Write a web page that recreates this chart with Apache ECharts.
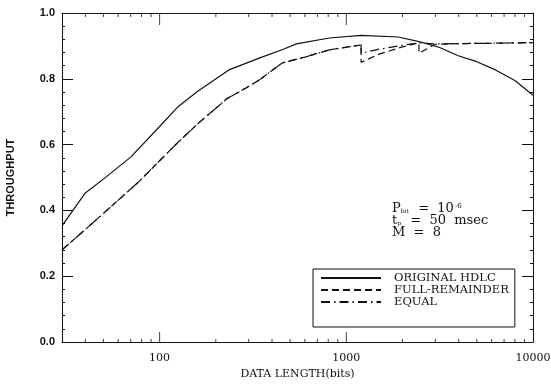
<!DOCTYPE html>
<html>
<head>
<meta charset="utf-8">
<script src="https://cdn.jsdelivr.net/npm/echarts@6/dist/echarts.min.js"></script>
<style>
  html, body { margin: 0; padding: 0; background: #fff; }
  #chart { width: 551px; height: 385px; }
</style>
</head>
<body>
<div id="chart"></div>
<script>
// data
const xLabels = [100, 1000, 10000]
const xMajorTicks = [100, 1000]
const xMinorTicks = [40, 50, 60, 70, 80, 90, 200, 300, 400, 500, 600, 700, 800, 900,
  2000, 3000, 4000, 5000, 6000, 7000, 8000, 9000]

const hdlcLen = [30, 40, 50, 70, 100, 126, 160, 235, 350, 460, 540, 810, 1200, 1900, 2450, 2725, 3160, 3980, 5000, 6300, 8000, 10000]
const hdlcThr = [0.353, 0.453, 0.495, 0.562, 0.655, 0.716, 0.762, 0.827, 0.865, 0.89, 0.906, 0.924, 0.932, 0.927, 0.913, 0.906, 0.895, 0.87, 0.852, 0.827, 0.795, 0.75]

const fullLen = [30, 40, 50, 77, 100, 126, 162, 230, 290, 341, 453, 600, 811, 1200, 1200, 1500, 2000, 2450, 2450, 3000, 4000, 6000, 10000]
const fullThr = [0.28, 0.342, 0.391, 0.486, 0.551, 0.608, 0.666, 0.74, 0.772, 0.796, 0.848, 0.866, 0.888, 0.903, 0.85, 0.875, 0.897, 0.909, 0.878, 0.905, 0.907, 0.908, 0.91]

const equalLen = [30, 40, 50, 77, 100, 126, 162, 230, 290, 341, 453, 600, 811, 1200, 1200, 1500, 2000, 2450, 3000, 4000, 6000, 10000]
const equalThr = [0.28, 0.342, 0.391, 0.486, 0.551, 0.608, 0.666, 0.74, 0.772, 0.796, 0.848, 0.866, 0.888, 0.903, 0.878, 0.89, 0.902, 0.909, 0.906, 0.907, 0.908, 0.91]

const ink = '#111'
const zip = (a, b) => a.map((v, i) => [v, b[i]])
const isLabel = v => xLabels.some(l => Math.abs(l - v) < 1e-6 * l)

const chart = echarts.init(document.getElementById('chart'))

// tick marks along the log axis, placed by the axis scale
function tickMarks(values, yVal, len, up) {
  return {
    type: 'scatter',
    silent: true,
    clip: false,
    symbol: 'rect',
    symbolSize: [1, len],
    symbolOffset: [0, up ? '-50%' : '50%'],
    itemStyle: { color: ink },
    data: values.map(v => [v, yVal]),
    z: 3
  }
}

function valAxis(position, label) {
  return {
    type: 'value', position: position, min: 0, max: 1, interval: 0.2,
    axisLine: { show: true, onZero: false, lineStyle: { color: ink, width: 1 } },
    axisTick: { show: true, inside: true, length: 11, lineStyle: { color: ink } },
    minorTick: { show: true, splitNumber: 5, length: 3, lineStyle: { color: ink } },
    axisLabel: label,
    splitLine: { show: false }
  }
}

const leftAxis = valAxis('left', {
  show: true,
  margin: 7,
  fontFamily: 'Liberation Sans',
  fontWeight: 'bold',
  fontSize: 11,
  color: ink,
  formatter: v => v.toFixed(1)
})
leftAxis.name = 'THROUGHPUT'
leftAxis.nameLocation = 'middle'
leftAxis.nameGap = 46
leftAxis.nameRotate = 90
leftAxis.nameTextStyle = { fontFamily: 'Liberation Sans', fontWeight: 'bold', fontSize: 11, color: ink }

chart.setOption({
  backgroundColor: '#fff',
  grid: { left: 62, right: 18, top: 13, bottom: 43, containLabel: false, outerBoundsMode: 'none' },
  xAxis: [
    {
      type: 'log', logBase: 10, position: 'bottom', min: 30, max: 10000,
      name: 'DATA LENGTH(bits)',
      nameLocation: 'middle',
      nameGap: 27,
      nameTextStyle: { fontFamily: 'DejaVu Serif', fontSize: 11, color: ink },
      axisLine: { show: true, onZero: false, lineStyle: { color: ink, width: 1 } },
      axisTick: { show: false },
      axisLabel: {
        show: true,
        margin: 11,
        fontFamily: 'DejaVu Serif',
        fontSize: 11,
        color: ink,
        formatter: v => (isLabel(v) ? String(Math.round(v)) : '')
      },
      splitLine: { show: false }
    },
    {
      type: 'log', logBase: 10, position: 'top', min: 30, max: 10000,
      axisLine: { show: true, onZero: false, lineStyle: { color: ink, width: 1 } },
      axisTick: { show: false },
      axisLabel: { show: false },
      splitLine: { show: false }
    }
  ],
  yAxis: [leftAxis, valAxis('right', { show: false })],
  legend: {
    orient: 'vertical',
    left: 313,
    top: 269,
    padding: [3, 6, 19, 7],
    itemGap: 0,
    itemWidth: 60,
    itemHeight: 10,
    borderColor: ink,
    borderWidth: 1,
    backgroundColor: '#fff',
    itemStyle: { opacity: 0 },
    textStyle: { fontFamily: 'DejaVu Serif', fontSize: 11.5, lineHeight: 10, color: ink, padding: [0, 0, 0, 8] },
    data: ['ORIGINAL HDLC', 'FULL-REMAINDER', 'EQUAL']
  },
  graphic: [
    {
      type: 'text',
      left: 392,
      top: 202,
      style: {
        text: 'P{sub|bit}  =  10{sup|-6}\nt{sub|p}  =  50  msec\nM  =  8',
        fontFamily: 'DejaVu Serif',
        fontSize: 13,
        lineHeight: 12,
        fill: ink,
        rich: {
          sub: { fontSize: 6, fontFamily: 'DejaVu Serif', padding: [5, 1, 0, 0] },
          sup: { fontSize: 7, fontFamily: 'DejaVu Serif', padding: [0, 0, 5, 1] }
        }
      }
    }
  ],
  series: [
    {
      type: 'line', symbol: 'none', name: 'ORIGINAL HDLC',
      data: zip(hdlcLen, hdlcThr),
      lineStyle: { color: ink, width: 1.2, type: 'solid' },
      itemStyle: { color: ink }
    },
    {
      type: 'line', symbol: 'none', name: 'FULL-REMAINDER',
      data: zip(fullLen, fullThr),
      lineStyle: { color: ink, width: 1.2, type: [7, 4] },
      itemStyle: { color: ink }
    },
    {
      type: 'line', symbol: 'none', name: 'EQUAL',
      data: zip(equalLen, equalThr),
      lineStyle: { color: ink, width: 1.2, type: [9, 4, 1.5, 4] },
      itemStyle: { color: ink }
    },
    tickMarks(xMajorTicks, 0, 10, true),
    tickMarks(xMinorTicks, 0, 3, true),
    tickMarks(xMajorTicks, 1, 12, false),
    tickMarks(xMinorTicks, 1, 4, false)
  ]
})
</script>
</body>
</html>
